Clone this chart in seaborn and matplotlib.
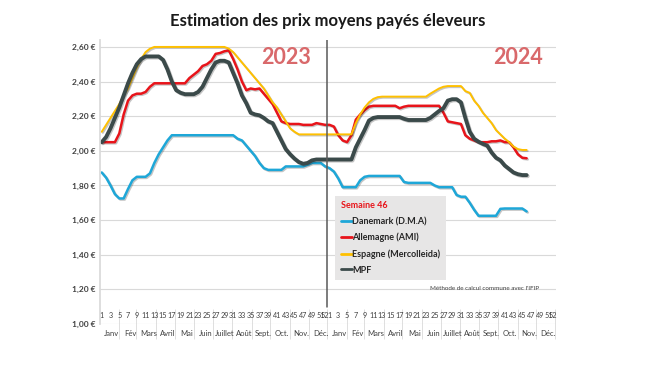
import numpy as np
import pandas as pd
import matplotlib
matplotlib.use("Agg")
import matplotlib.pyplot as plt
import matplotlib.patheffects as pe
from matplotlib.lines import Line2D
import seaborn as sns

# weekly prices (EUR/kg), 2023 = weeks 1-52, 2024 = weeks 1-46
danemark_2023 = [1.875, 1.845, 1.80, 1.75, 1.725, 1.725, 1.78, 1.83, 1.85, 1.85, 1.85, 1.87, 1.93,
                 1.98, 2.02, 2.06, 2.09, 2.09, 2.09, 2.09, 2.09, 2.09, 2.09, 2.09, 2.09, 2.09,
                 2.09, 2.09, 2.09, 2.09, 2.09, 2.07, 2.06, 2.03, 2.00, 1.97, 1.93, 1.90, 1.89,
                 1.89, 1.89, 1.89, 1.91, 1.91, 1.91, 1.91, 1.91, 1.92, 1.93, 1.93, 1.93, 1.91]
danemark_2024 = [1.90, 1.88, 1.84, 1.79, 1.79, 1.79, 1.79, 1.83, 1.85, 1.855, 1.855, 1.855, 1.855,
                 1.855, 1.855, 1.855, 1.855, 1.82, 1.815, 1.815, 1.815, 1.815, 1.815, 1.815, 1.80,
                 1.79, 1.79, 1.79, 1.79, 1.745, 1.735, 1.735, 1.70, 1.66, 1.625, 1.625, 1.625,
                 1.625, 1.625, 1.665, 1.667, 1.667, 1.667, 1.667, 1.667, 1.65]

allemagne_2023 = [2.05, 2.05, 2.05, 2.05, 2.10, 2.21, 2.29, 2.32, 2.33, 2.33, 2.34, 2.37, 2.39,
                  2.39, 2.39, 2.39, 2.39, 2.39, 2.39, 2.39, 2.42, 2.44, 2.46, 2.49, 2.50, 2.52,
                  2.56, 2.565, 2.575, 2.58, 2.53, 2.47, 2.40, 2.35, 2.36, 2.355, 2.36, 2.33, 2.30,
                  2.27, 2.22, 2.17, 2.16, 2.155, 2.155, 2.155, 2.15, 2.15, 2.15, 2.16, 2.155, 2.15]
allemagne_2024 = [2.15, 2.14, 2.09, 2.06, 2.05, 2.09, 2.18, 2.21, 2.235, 2.255, 2.26, 2.26, 2.26,
                  2.26, 2.26, 2.26, 2.246, 2.255, 2.26, 2.26, 2.26, 2.26, 2.26, 2.26, 2.26, 2.26,
                  2.22, 2.17, 2.165, 2.16, 2.155, 2.09, 2.07, 2.06, 2.05, 2.05, 2.05, 2.055, 2.055,
                  2.06, 2.05, 2.05, 2.02, 1.98, 1.96, 1.957]

espagne_2023 = [2.11, 2.15, 2.19, 2.23, 2.27, 2.32, 2.36, 2.42, 2.48, 2.53, 2.57, 2.59, 2.60,
                2.60, 2.60, 2.60, 2.60, 2.60, 2.60, 2.60, 2.60, 2.60, 2.60, 2.60, 2.60, 2.60,
                2.60, 2.60, 2.60, 2.59, 2.57, 2.54, 2.51, 2.48, 2.45, 2.42, 2.39, 2.36, 2.32,
                2.28, 2.25, 2.21, 2.17, 2.13, 2.11, 2.095, 2.095, 2.095, 2.095, 2.095, 2.095, 2.095]
espagne_2024 = [2.095, 2.095, 2.095, 2.095, 2.095, 2.095, 2.16, 2.21, 2.25, 2.28, 2.30, 2.31,
                2.313, 2.313, 2.313, 2.313, 2.313, 2.313, 2.313, 2.313, 2.313, 2.313, 2.313,
                2.33, 2.345, 2.36, 2.37, 2.374, 2.374, 2.374, 2.374, 2.345, 2.335, 2.29, 2.26,
                2.22, 2.19, 2.16, 2.12, 2.095, 2.07, 2.05, 2.025, 2.01, 2.005, 2.005]

mpf_2023 = [2.05, 2.08, 2.13, 2.19, 2.25, 2.32, 2.39, 2.45, 2.50, 2.53, 2.545, 2.545, 2.545,
            2.545, 2.525, 2.47, 2.40, 2.35, 2.335, 2.327, 2.327, 2.327, 2.34, 2.37, 2.42, 2.47,
            2.51, 2.52, 2.52, 2.51, 2.45, 2.39, 2.32, 2.275, 2.22, 2.21, 2.205, 2.19, 2.17,
            2.16, 2.11, 2.06, 2.01, 1.98, 1.955, 1.935, 1.925, 1.93, 1.945, 1.95, 1.95, 1.95]
mpf_2024 = [1.95, 1.95, 1.95, 1.95, 1.95, 1.95, 2.02, 2.07, 2.12, 2.175, 2.19, 2.195, 2.195,
            2.195, 2.195, 2.195, 2.195, 2.185, 2.178, 2.178, 2.178, 2.178, 2.178, 2.19, 2.21,
            2.23, 2.246, 2.29, 2.298, 2.298, 2.28, 2.19, 2.11, 2.07, 2.053, 2.04, 2.03, 1.99,
            1.96, 1.945, 1.915, 1.895, 1.875, 1.865, 1.86, 1.86]

series_names = ["Danemark (D.M.A)", "Allemagne (AMI)", "Espagne (Mercolleida)", "MPF"]
series_colors = ["#1ea7d8", "#e8141a", "#ffc000", "#3b4a4a"]
series_widths = [1.8, 1.8, 1.4, 2.8]

month_names = ["Janv", "Fév", "Mars", "Avril", "Mai", "Juin", "Juillet", "Août",
               "Sept.", "Oct.", "Nov.", "Déc."]
month_days = [31, 28, 31, 30, 31, 30, 31, 31, 30, 31, 30, 31]
week_labels = [str(w) for w in range(1, 52, 2)] + ["52"]

# long table
rows = []
for name, y23, y24 in zip(series_names,
                          [danemark_2023, allemagne_2023, espagne_2023, mpf_2023],
                          [danemark_2024, allemagne_2024, espagne_2024, mpf_2024]):
    for i, v in enumerate(y23):
        rows.append((name, i + 1, v))
    for i, v in enumerate(y24):
        rows.append((name, 52 + i + 1, v))
df = pd.DataFrame(rows, columns=["serie", "semaine", "prix"])

sns.set_theme(style="white")
plt.rcParams["font.family"] = ["Lato", "DejaVu Sans"]

fig = plt.figure(figsize=(6.5, 3.66), dpi=100)
ax = fig.add_axes([100 / 650, 42 / 366, 456 / 650, 284 / 366])

shadow = [pe.SimpleLineShadow(offset=(0.8, -0.8), alpha=0.25), pe.Normal()]
for name, col, lw in zip(series_names, series_colors, series_widths):
    sub = df[df["serie"] == name]
    sns.lineplot(data=sub, x="semaine", y="prix", color=col, linewidth=lw, ax=ax,
                 path_effects=shadow)

ax.set_xlim(0.6, 104.7)
ax.set_ylim(1.0, 2.64)
ax.set_xlabel("")
ax.set_ylabel("")

# y axis
yt = np.arange(1.0, 2.61, 0.2)
ax.set_yticks(yt)
ax.set_yticklabels([f"{v:.2f} €".replace(".", ",") for v in yt],
                   fontsize=6, fontweight="bold", color="#404040")
ax.grid(axis="y", color="#d9d9d9", linewidth=0.8)
ax.grid(axis="x", visible=False)
for s in ["top", "right", "bottom"]:
    ax.spines[s].set_visible(False)
ax.spines["left"].set_color("#d9d9d9")
ax.tick_params(axis="y", length=0, pad=3)

# week numbers (inside, just above the bottom) and month names below
wk_pos = [w for w in range(1, 52, 2)] + [52]
major = wk_pos + [52 + w for w in wk_pos]
ax.set_xticks(major)
ax.set_xticklabels(week_labels * 2, fontsize=5.2, color="#404040")
starts = np.cumsum([0] + month_days[:-1])
centers = [1 + (s + d / 2) / 7 for s, d in zip(starts, month_days)]
ax.set_xticks(centers + [52 + c for c in centers], minor=True)
ax.set_xticklabels(month_names * 2, minor=True, fontsize=5.5, color="#404040")
ax.tick_params(axis="x", which="major", length=0, pad=-9)
ax.tick_params(axis="x", which="minor", length=0, pad=4)

# month separators
bounds = [0.5 + s / 7 for s in starts] + [52.5]
sec = ax.secondary_xaxis("bottom")
sec.set_xticks(bounds + [52 + b for b in bounds[1:]], labels=[])
sec.tick_params(direction="inout", length=22, width=0.6, color="#d9d9d9")
sec.spines["bottom"].set_visible(False)

# year separator
ax.axvline(52.5, ymin=0.06, ymax=1.0, color="#595959", linewidth=1.1)

ax.text(43, 2.54, "2023", fontsize=15.5, fontweight="bold", color="#d9696b",
        ha="center", va="center")
ax.text(96, 2.54, "2024", fontsize=15.5, fontweight="bold", color="#d9696b",
        ha="center", va="center")
ax.text(88.5, 1.207, "Méthode de calcul commune avec l'IFIP", fontsize=4.5,
        color="#404040", ha="center", va="center")

handles = [Line2D([0], [0], color=c, linewidth=2) for c in series_colors]
leg = ax.legend(handles, series_names, title="Semaine 46", loc="upper left",
                bbox_to_anchor=(0.516, 0.451), frameon=True, fancybox=False,
                facecolor="#e7e6e6", edgecolor="none", framealpha=1,
                prop={"size": 6.5, "weight": "bold"}, handlelength=1.2,
                handletextpad=0.1, borderaxespad=0, labelspacing=0.75,
                borderpad=0.6, alignment="left")
leg.get_title().set_color("#e8141a")
leg.get_title().set_fontweight("bold")
leg.get_title().set_fontsize(6.5)
for t in leg.get_texts():
    t.set_color("#262626")

fig.suptitle("Estimation des prix moyens payés éleveurs", x=328 / 650, y=0.965,
             fontsize=12, fontweight="bold", color="#1a1a1a")

fig.savefig("out.png", dpi=100, facecolor="white")
